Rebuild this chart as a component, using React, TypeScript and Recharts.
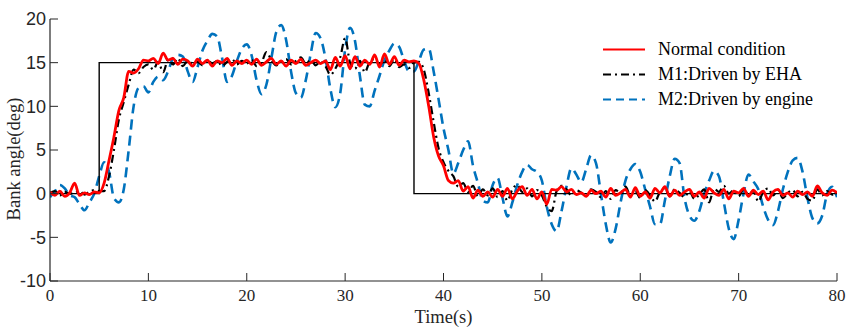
import React from 'react';
import { LineChart, Line, XAxis, YAxis, Legend } from 'recharts';

// Sampling step of the recorded signals (s)
const STEP = 0.5;

const REF_T = [0, 5, 5, 37, 37, 80];
const REF_V = [0, 0, 15, 15, 0, 0];

const NORMAL = [
  0.2, -0.2, 0.3, -0.3, 0.1, 1.2, -0.2, 0.1, -0.1, 0.2,
  0.1, 1.2, 3.8, 6.5, 9.5, 11.0, 14.0, 13.8, 14.3, 15.3,
  15.2, 15.5, 14.9, 16.1, 15.3, 15.5, 14.8, 15.4, 15.2, 14.6,
  15.4, 14.9, 15.3, 14.6, 15.2, 15.0, 15.5, 14.7, 15.2, 14.9,
  15.3, 14.8, 15.4, 14.7, 15.1, 15.5, 14.8, 15.2, 14.6, 15.3,
  14.9, 15.4, 14.7, 15.0, 15.3, 14.9, 15.2, 14.2, 15.6, 14.6,
  15.8, 14.3, 15.7, 14.6, 15.3, 14.8, 15.9, 14.5, 16.0, 14.8,
  15.7, 14.7, 15.3, 15.1, 15.2, 14.9, 13.0, 10.0, 6.5, 4.3,
  3.2, 1.5, 1.2, 1.5, 0.3, 0.8, -0.5, 0.4, -0.3, 0.2,
  -0.4, 0.5, -0.3, 0.6, -0.6, 0.3, 0.8, -0.2, 0.5, -0.6,
  0.2, -1.2, 0.5, 0.4, 0.8, 0.2, 0.5, -0.1, 0.1, -0.3,
  0.4, 0.0, 0.3, -0.4, 0.6, -0.2, 0.1, 0.5, -0.4, 0.7,
  -0.3, 0.2, -0.5, 0.6, 0.1, 0.8, -0.3, 0.4, -0.2, 0.2,
  0.5, -0.3, 0.2, -0.5, 0.6, 0.1, -0.2, 0.5, -0.6, 0.3,
  0.1, 0.6, -0.3, 0.4, -0.1, 0.3, -0.7, 0.2, 0.5, -0.2,
  0.1, -0.4, 0.3, -0.1, 0.2, -0.3, 0.9, 0.1, -0.2, 0.4,
  0.1,
];

const EHA = [
  0.1, 0.3, -0.2, 0.2, 0.0, 0.1, 0.3, -0.1, 0.2, 0.4,
  0.3, 0.3, 2.0, 5.0, 8.5, 10.5, 12.5, 14.2, 13.8, 14.5,
  14.8, 14.2, 15.1, 13.9, 15.3, 14.8, 15.5, 14.6, 15.2, 14.9,
  15.1, 14.7, 15.3, 14.9, 15.2, 14.6, 15.1, 15.4, 14.8, 15.2,
  14.9, 15.3, 14.6, 15.0, 16.2, 15.3, 14.7, 15.1, 15.4, 14.8,
  15.2, 15.6, 14.9, 15.3, 14.7, 15.1, 14.6, 13.6, 14.3, 15.6,
  17.8, 15.0, 14.3, 15.2, 13.9, 15.1, 15.4, 14.8, 15.3, 14.6,
  15.4, 14.5, 14.8, 14.4, 15.0, 15.1, 14.2, 11.5, 8.2, 5.2,
  3.6, 2.6, 2.0, 0.8, 1.2, 0.2, 0.9, -0.3, 0.5, -0.2,
  0.6, -0.4, 0.3, -0.8, 0.5, 1.0, 0.2, 0.6, -0.3, 0.4,
  -0.2, -1.5, -2.0, 0.3, 0.9, 0.5, -0.2, 0.4, 0.1, -0.3,
  0.5, 0.2, -0.4, 0.3, -0.6, 0.4, 0.1, 0.8, -0.2, 0.3,
  -0.5, 0.4, -0.2, -0.9, 0.2, 0.6, -0.3, 0.5, 0.1, -0.4,
  0.3, -0.6, -0.1, 0.5, -1.0, 0.6, 0.2, 0.9, 0.0, 0.4,
  -0.3, 0.5, -0.1, 0.3, -0.9, 0.2, 0.6, -0.2, 0.4, -0.5,
  0.1, 0.4, -0.3, 0.2, -0.6, -0.8, 0.5, -0.2, 0.3, -0.1,
  0.2,
];

const ENGINE = [
  -0.4, 0.3, 1.0, 0.6, -0.2, -0.4, -1.2, -1.9, -1.0, 0.0,
  2.0, 3.6, 2.5, -0.5, -1.0, 0.5, 5.0, 10.0, 12.1, 12.3,
  11.6, 12.8, 13.4, 13.0, 14.0, 15.5, 15.9, 15.7, 14.0, 12.8,
  14.5, 16.4, 17.5, 18.3, 18.0, 15.5, 12.8, 13.5, 15.2, 16.6,
  17.1, 15.8, 13.0, 11.4, 12.5, 15.5, 18.5, 19.3, 17.6, 14.0,
  11.5, 11.0, 13.0, 16.0, 18.4, 17.8, 15.5, 12.0, 9.9, 11.5,
  16.5, 19.0, 17.5, 13.5, 10.2, 10.0, 11.8, 13.5, 15.3, 16.4,
  17.2, 16.8, 15.2, 14.0, 14.0, 15.2, 16.5, 16.6, 14.0, 10.8,
  7.5, 5.0, 2.3, 3.5, 5.0, 6.0, 3.2, 1.2, -0.8, -1.0,
  1.0, 1.8, -0.5, -2.6, -1.0, 1.0, 2.5, 3.3, 2.8, 2.5,
  1.5, -1.5, -3.5, -4.3, -2.0, 0.8, 2.9, 2.2, 1.3, 2.8,
  4.4, 3.5, 0.0, -3.5, -5.6, -4.0, -1.0, 1.5, 2.8, 3.4,
  2.5, 0.5, -1.5, -3.5, -3.5, -0.8, 2.0, 4.0, 3.5, -0.5,
  -2.5, -3.1, -2.0, 0.0, 1.5, 2.6, 2.0, -1.0, -4.0, -5.2,
  -3.0, 0.0, 2.2, 1.4, 0.5, -1.5, -3.0, -3.6, -2.0, 0.5,
  2.5, 3.8, 4.1, 2.5, -0.5, -2.8, -3.4, -2.5, 0.0, 0.8,
  -0.4,
];

const X_TICKS = [0, 10, 20, 30, 40, 50, 60, 70, 80];
const Y_TICKS = [-10, -5, 0, 5, 10, 15, 20];

const LEGEND_ITEMS = [
  { label: 'Normal condition', color: '#ff0000', dash: '', width: 2 },
  { label: 'M1:Driven by EHA', color: '#000000', dash: '8 4 2 4', width: 2 },
  { label: 'M2:Driven by engine', color: '#0072BD', dash: '8 5', width: 2 },
];

const toSeries = (vals: number[]) => vals.map((v, i) => ({ t: i * STEP, v }));
const refData = REF_T.map((t, i) => ({ t, v: REF_V[i] }));
const normalData = toSeries(NORMAL);
const ehaData = toSeries(EHA);
const engineData = toSeries(ENGINE);

const AXIS = '#262626';
const TICK_LEN = 8;
const SERIF = '"Liberation Serif", "Times New Roman", serif';
const SANS = '"Liberation Sans", Arial, sans-serif';

const BottomTick = (props: any) => {
  const { x, y, payload } = props;
  const axisY = y - 8;
  return (
    <g>
      <line x1={x} y1={axisY} x2={x} y2={axisY - TICK_LEN} stroke={AXIS} strokeWidth={1} />
      <text x={x} y={y} dy="0.7em" textAnchor="middle" fontFamily={SERIF} fontSize={17} fill={AXIS}>
        {payload.value}
      </text>
    </g>
  );
};

const LeftTick = (props: any) => {
  const { x, y, payload } = props;
  const axisX = x + 4;
  return (
    <g>
      <line x1={axisX} y1={y} x2={axisX + TICK_LEN} y2={y} stroke={AXIS} strokeWidth={1} />
      <text x={x} y={y} dy="0.36em" textAnchor="end" fontFamily={SANS} fontSize={18} fill={AXIS}>
        {payload.value}
      </text>
    </g>
  );
};

const TopTick = (props: any) => {
  const { x, y } = props;
  return <line x1={x} y1={y} x2={x} y2={y + TICK_LEN} stroke={AXIS} strokeWidth={1} />;
};

const RightTick = (props: any) => {
  const { x, y } = props;
  return <line x1={x} y1={y} x2={x - TICK_LEN} y2={y} stroke={AXIS} strokeWidth={1} />;
};

const renderLegend = () => (
  <div style={{ display: 'flex', flexDirection: 'column' }}>
    {LEGEND_ITEMS.map((it) => (
      <div key={it.label} style={{ display: 'flex', alignItems: 'center', height: 25 }}>
        <svg width={42} height={25} style={{ display: 'block' }}>
          <line x1={0} y1={12.5} x2={42} y2={12.5} stroke={it.color} strokeWidth={it.width} strokeDasharray={it.dash || undefined} />
        </svg>
        <span style={{ marginLeft: 13, fontFamily: SERIF, fontSize: 18, color: '#000', whiteSpace: 'nowrap', lineHeight: '25px' }}>
          {it.label}
        </span>
      </div>
    ))}
  </div>
);

export default function App() {
  return (
    <div style={{ position: 'absolute', left: 0, top: 0, width: 853, height: 334, background: '#fff' }}>
      <LineChart width={853} height={334} margin={{ top: 19, right: 16, bottom: 0, left: 0 }}>
        <XAxis
          xAxisId="b"
          type="number"
          dataKey="t"
          domain={[0, 80]}
          ticks={X_TICKS}
          interval={0}
          allowDataOverflow
          height={53}
          stroke={AXIS}
          strokeWidth={1.2}
          tickLine={false}
          tickSize={0}
          tickMargin={8}
          tick={<BottomTick />}
          label={{ value: 'Time(s)', position: 'insideBottom', offset: 11, fontFamily: SERIF, fontSize: 18.5, fill: AXIS }}
        />
        <XAxis
          xAxisId="top"
          orientation="top"
          type="number"
          dataKey="t"
          domain={[0, 80]}
          ticks={X_TICKS}
          interval={0}
          allowDataOverflow
          height={0}
          stroke={AXIS}
          strokeWidth={1.2}
          tickLine={false}
          tickSize={0}
          tickMargin={0}
          tick={<TopTick />}
        />
        <YAxis
          yAxisId="l"
          type="number"
          domain={[-10, 20]}
          ticks={Y_TICKS}
          interval={0}
          allowDataOverflow
          width={50}
          stroke={AXIS}
          strokeWidth={1.2}
          tickLine={false}
          tickSize={0}
          tickMargin={4}
          tick={<LeftTick />}
          label={{
            content: (p: any) => {
              const vb = p.viewBox || {};
              const cx = (vb.x || 0) + 20;
              const cy = (vb.y || 0) + (vb.height || 0) / 2 + 9;
              return (
                <text x={cx} y={cy} transform={`rotate(-90 ${cx} ${cy})`} textAnchor="middle" fontFamily={SERIF} fontSize={18.5} fill={AXIS}>
                  Bank angle(deg)
                </text>
              );
            },
          }}
        />
        <YAxis
          yAxisId="r"
          orientation="right"
          type="number"
          domain={[-10, 20]}
          ticks={Y_TICKS}
          interval={0}
          allowDataOverflow
          width={0}
          stroke={AXIS}
          strokeWidth={1.2}
          tickLine={false}
          tickSize={0}
          tickMargin={0}
          tick={<RightTick />}
        />
        <Legend
          layout="vertical"
          align="center"
          verticalAlign="middle"
          content={renderLegend}
          wrapperStyle={{ position: 'absolute', left: 603, top: 37, width: 240, height: 75 }}
        />
        <Line
          xAxisId="b"
          yAxisId="l"
          data={engineData}
          dataKey="v"
          type="monotone"
          stroke="#0072BD"
          strokeWidth={2.6}
          strokeDasharray="10 6"
          dot={false}
          activeDot={false}
          isAnimationActive={false}
          legendType="none"
        />
        <Line
          xAxisId="b"
          yAxisId="l"
          data={refData}
          dataKey="v"
          type="linear"
          stroke="#000000"
          strokeWidth={1.4}
          dot={false}
          activeDot={false}
          isAnimationActive={false}
          legendType="none"
        />
        <Line
          xAxisId="b"
          yAxisId="l"
          data={ehaData}
          dataKey="v"
          type="monotone"
          stroke="#000000"
          strokeWidth={2.2}
          strokeDasharray="8 4 2 4"
          dot={false}
          activeDot={false}
          isAnimationActive={false}
          legendType="none"
        />
        <Line
          xAxisId="b"
          yAxisId="l"
          data={normalData}
          dataKey="v"
          type="monotone"
          stroke="#ff0000"
          strokeWidth={2.8}
          dot={false}
          activeDot={false}
          isAnimationActive={false}
          legendType="none"
        />
      </LineChart>
    </div>
  );
}
